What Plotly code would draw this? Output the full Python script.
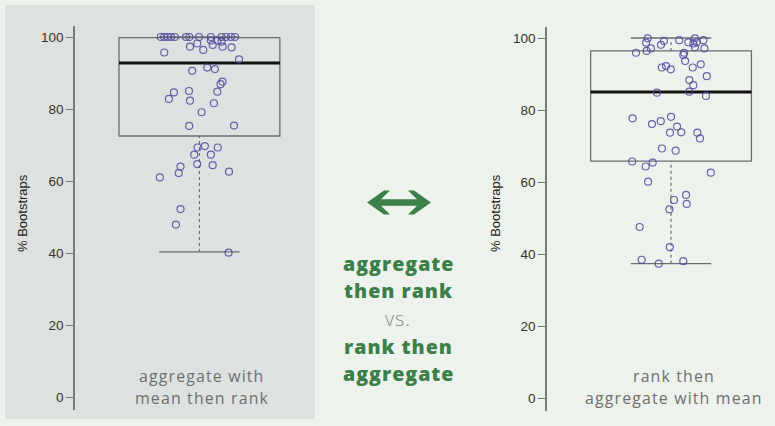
import plotly.graph_objects as go

W, H = 775, 426

# ---------------- data ----------------
left_label = ["aggregate with", "mean then rank"]
right_label = ["rank then", "aggregate with mean"]
middle_lines = ["aggregate", "then rank", "vs.", "rank then", "aggregate"]
y_ticks = [0, 20, 40, 60, 80, 100]

# box statistics
left_box = dict(q1=72.5, median=92.8, q3=99.8, lowerfence=40.3, upperfence=100.0)
right_box = dict(q1=65.8, median=85.0, q3=96.4, lowerfence=37.3, upperfence=100.0)

# jittered points (offset from box centre, value)
left_jit = [-0.192, -0.175, -0.158, -0.141, -0.122, -0.067, -0.05, -0.002, 0.057, 0.11, 0.132, 0.157, 0.177,
            -0.047, -0.011, 0.019, 0.057, 0.066, 0.089, 0.11, 0.115, 0.16, -0.175, 0.197,
            -0.036, 0.039, 0.077, 0.105, 0.115, -0.127, -0.152, -0.052, -0.047, 0.089, 0.072,
            0.011, -0.051, 0.172, -0.009, 0.027, 0.091, -0.026, 0.057, -0.094, -0.103, -0.011,
            0.066, 0.147, -0.197, -0.094, -0.117, 0.145]
left_val = [100, 100, 100, 100, 100, 100, 100, 100, 100, 100, 100, 100, 100,
            97.3, 98.2, 96.4, 99.0, 97.8, 99.0, 98.7, 97.3, 97.1, 95.7, 93.8,
            90.6, 91.5, 91.1, 86.9, 87.6, 84.6, 82.8, 85.0, 82.3, 84.8, 81.6,
            79.1, 75.3, 75.4, 69.3, 69.7, 69.3, 67.3, 67.3, 64.0, 62.2, 64.7,
            64.4, 62.6, 61.0, 52.2, 47.9, 40.1]

right_jit = [-0.116, -0.124, -0.1, -0.121, -0.174, -0.05, -0.035, 0.041, 0.086, 0.119, 0.111, 0.128,
             0.161, 0.119, 0.166, 0.061, 0.065, 0.07, -0.046, -0.025, -0.001, 0.108, 0.148, 0.091,
             0.111, 0.178, -0.07, 0.091, 0.174, -0.191, -0.095, -0.051, 0.0, 0.03, -0.005, 0.051,
             0.131, 0.144, -0.045, 0.023, -0.193, -0.126, -0.091, 0.198, -0.114, 0.075, 0.015,
             0.078, -0.008, -0.156, -0.006, -0.146, -0.061, 0.061]
right_val = [99.9, 98.7, 97.1, 96.4, 95.9, 98.1, 99.2, 99.4, 98.8, 99.9, 98.5, 98.8,
             99.4, 97.4, 97.1, 95.3, 95.9, 93.6, 91.8, 92.2, 91.3, 91.8, 92.7, 88.3,
             86.9, 89.4, 84.8, 85.1, 83.9, 77.7, 76.1, 76.9, 78.1, 75.4, 73.7, 73.8,
             73.7, 72.1, 69.3, 68.7, 65.7, 64.3, 65.4, 62.6, 60.1, 56.4, 55.0,
             53.9, 52.4, 47.5, 41.9, 38.4, 37.3, 38.0]

# ---------------- styling ----------------
BG = "#eef2ec"
PANEL = "#dde2e0"
BOXC = "#6e6e6e"
PTC = "rgba(84,72,160,0.85)"
GREEN = "#3b7f49"
GREYTXT = "#6f6f6f"


def px(x):
    return x / W


def py(y):
    return 1 - y / H


fig = go.Figure()


def add_panel(xa, ya, stats, jit, val):
    fig.add_trace(go.Box(
        x=[0], q1=[stats["q1"]], median=[stats["median"]], q3=[stats["q3"]],
        lowerfence=[stats["q1"]], upperfence=[stats["q3"]],
        width=0.8, fillcolor="rgba(0,0,0,0)", line=dict(color=BOXC, width=1.3),
        whiskerwidth=0, boxpoints=False, hoverinfo="skip",
        xaxis=xa, yaxis=ya, showlegend=False))
    # thick median
    fig.add_trace(go.Scatter(x=[-0.4, 0.4], y=[stats["median"]] * 2, mode="lines",
                             line=dict(color="#111111", width=3), xaxis=xa, yaxis=ya,
                             showlegend=False, hoverinfo="skip"))
    # dashed whiskers
    for a, b in [(stats["q3"], stats["upperfence"]), (stats["lowerfence"], stats["q1"])]:
        fig.add_trace(go.Scatter(x=[0, 0], y=[a, b], mode="lines",
                                 line=dict(color=BOXC, width=1.2, dash="3px,3px"),
                                 xaxis=xa, yaxis=ya, showlegend=False, hoverinfo="skip"))
    # caps
    for f in [stats["upperfence"], stats["lowerfence"]]:
        fig.add_trace(go.Scatter(x=[-0.2, 0.2], y=[f, f], mode="lines",
                                 line=dict(color=BOXC, width=1.3),
                                 xaxis=xa, yaxis=ya, showlegend=False, hoverinfo="skip"))
    fig.add_trace(go.Scatter(x=jit, y=val, mode="markers",
                             marker=dict(symbol="circle-open", size=7, color=PTC,
                                         line=dict(width=1.2, color=PTC)),
                             xaxis=xa, yaxis=ya, showlegend=False))


add_panel("x", "y", left_box, left_jit, left_val)
add_panel("x2", "y2", right_box, right_jit, right_val)

yax = dict(range=[-3.5, 103], tickvals=y_ticks, ticks="outside", ticklen=7, tickwidth=1,
           tickcolor="#777", showline=True, linecolor="#7a7a7a", linewidth=1.5,
           showgrid=False, zeroline=False, tickfont=dict(family="Liberation Sans", size=13.5, color="#333"),
           fixedrange=True)

fig.update_layout(
    width=W, height=H, margin=dict(l=0, r=0, t=0, b=0),
    paper_bgcolor=BG, plot_bgcolor="rgba(0,0,0,0)",
    xaxis=dict(domain=[px(75), px(310)], range=[-0.619, 0.55], visible=False, fixedrange=True),
    xaxis2=dict(domain=[px(547), px(770)], range=[-0.617, 0.4925], visible=False, fixedrange=True),
    yaxis=dict(domain=[py(409.6), py(26.2)], anchor="x", **yax),
    yaxis2=dict(domain=[py(410.6), py(27.2)], anchor="x2", **yax),
)

fig.add_shape(type="rect", xref="paper", yref="paper", x0=px(5), x1=px(315), y0=py(419), y1=py(5),
              fillcolor=PANEL, line=dict(width=0), layer="below")

# arrow
pts = [(367, 202.5), (384, 190.5), (390, 190.5), (381, 199.3), (417, 199.3), (408, 190.5), (414, 190.5),
       (431, 202.5), (414, 214.5), (408, 214.5), (417, 205.8), (381, 205.8), (390, 214.5), (384, 214.5)]
path = "M " + " L ".join(f"{px(a):.5f},{py(b):.5f}" for a, b in pts) + " Z"
fig.add_shape(type="path", xref="paper", yref="paper", path=path, fillcolor=GREEN,
              line=dict(width=0))

ann = []
for x, t in [(22, "% Bootstraps"), (495, "% Bootstraps")]:
    ann.append(dict(x=px(x), y=py(213), text=t, textangle=-90, showarrow=False,
                    font=dict(family="Liberation Sans", size=13, color="#222")))
for cx, lines in [(202, left_label), (674, right_label)]:
    for i, t in enumerate(lines):
        ann.append(dict(x=px(cx), y=py(376 + 22 * i),
                        text=f"<span style='letter-spacing:1.15px'>{t}</span>", showarrow=False,
                        font=dict(family="Open Sans", size=15.9, color=GREYTXT)))

mid_y = [263, 290, 318.4, 346, 373]
for t, y in zip(middle_lines, mid_y):
    if t == "vs.":
        txt = f"<span style='letter-spacing:1px'>{t}</span>"
        f = dict(family="Open Sans", size=19.8, color="#808e84", weight=300)
    else:
        txt = f"<span style='letter-spacing:1px'>{t}</span>"
        f = dict(family="Open Sans", size=19.6, color=GREEN, weight=800)
    ann.append(dict(x=px(398), y=py(y), text=txt, showarrow=False, font=f))
for a in ann:
    a.update(xref="paper", yref="paper", xanchor="center", yanchor="middle", borderpad=0)
fig.update_layout(annotations=ann)

fig.write_html("out.html", config={"displayModeBar": False},
               post_script="document.body.style.margin='0';")
